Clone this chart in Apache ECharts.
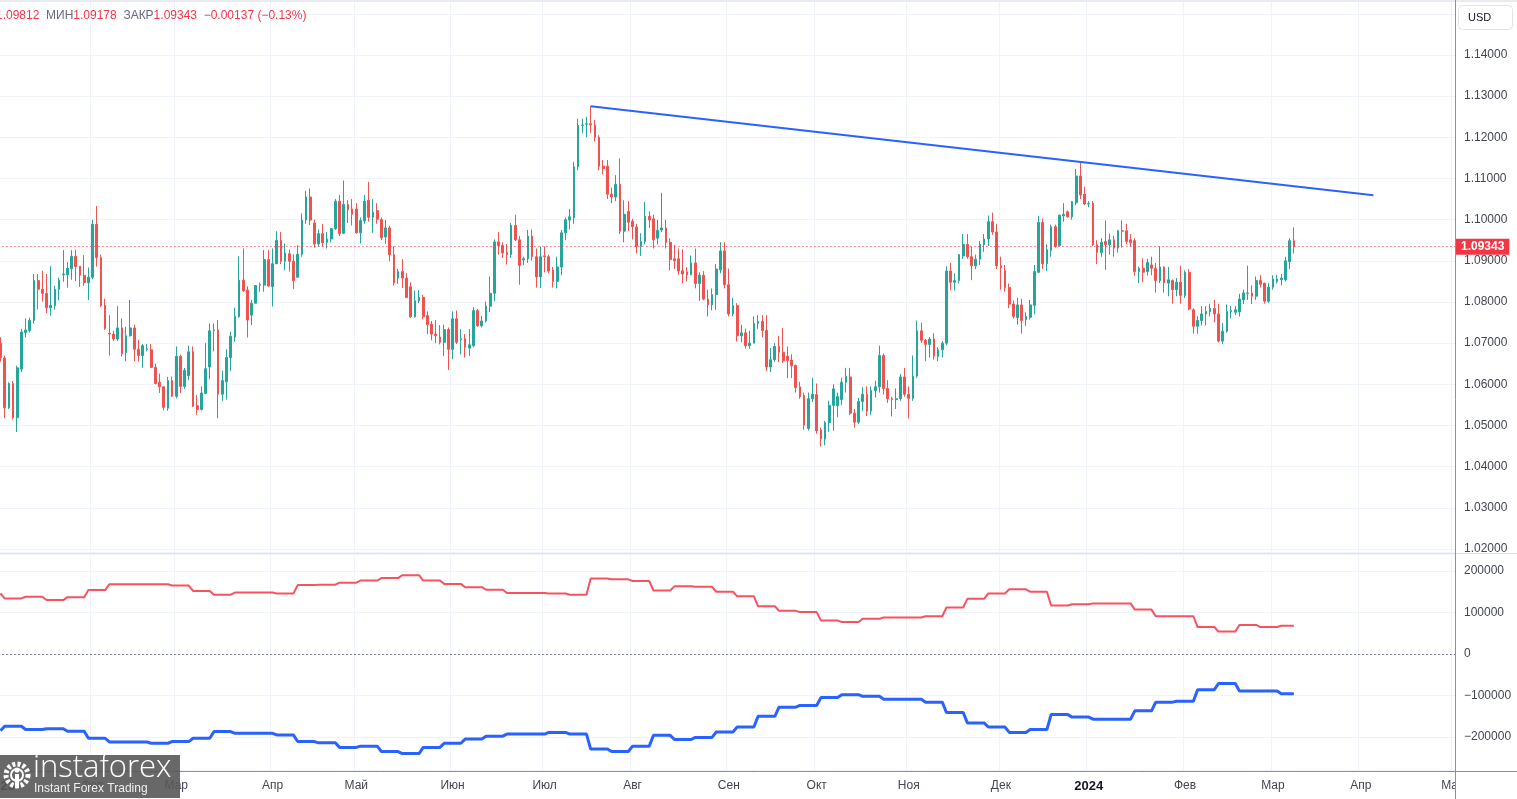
<!DOCTYPE html>
<html><head><meta charset="utf-8">
<script src="https://cdn.jsdelivr.net/npm/echarts/dist/echarts.min.js"></script>
<style>html,body{margin:0;padding:0;background:#fff;overflow:hidden}#c{width:1517px;height:799px}</style>
</head><body><div id="c"></div>
<script>
// ---------- DATA ----------
const firstDate = '2023-01-02';        // first daily bar (weekdays only)
const categoryCount = 348;             // bars incl. empty future space up to 2024-05-01
const monthNames = ['Янв','Фев','Мар','Апр','Май','Июн','Июл','Авг','Сен','Окт','Ноя','Дек'];
const priceTicks = [1.02,1.03,1.04,1.05,1.06,1.07,1.08,1.09,1.10,1.11,1.12,1.13,1.14];
const cotTicks = [-200000,-100000,0,100000,200000];
const headerText = {high:'1.09812', low:'1.09178', close:'1.09343', change:'\u22120.00137 (\u22120.13%)'};
const lastPrice = 1.09343;
const trendLine = [[141, 1.12755],[328, 1.10595]];

// daily candles [open, high, low, close]
const ohlc2023a = [
[1.0700,1.0714,1.0655,1.0665],[1.0664,1.0670,1.0518,1.0543],[1.0543,1.0605,1.0540,1.0602],[1.0602,1.0608,1.0515,1.0519],[1.0519,1.0645,1.0484,1.0640],
[1.0637,1.0735,1.0630,1.0727],[1.0726,1.0760,1.0714,1.0732],[1.0731,1.0762,1.0726,1.0755],[1.0755,1.0868,1.0748,1.0852],[1.0852,1.0868,1.0782,1.0831],
[1.0831,1.0876,1.0801,1.0821],[1.0821,1.0868,1.0773,1.0786],[1.0786,1.0887,1.0767,1.0792],[1.0791,1.0839,1.0781,1.0831],[1.0831,1.0859,1.0804,1.0853],
[1.0866,1.0926,1.0849,1.0868],[1.0866,1.0897,1.0835,1.0882],[1.0881,1.0926,1.0854,1.0911],[1.0911,1.0927,1.0851,1.0886],[1.0887,1.0887,1.0837,1.0865],
[1.0865,1.0914,1.0839,1.0847],[1.0847,1.0884,1.0805,1.0860],[1.0860,1.1000,1.0855,1.0989],[1.0989,1.1033,1.0886,1.0908],[1.0908,1.0915,1.0788,1.0791],
[1.0792,1.0808,1.0732,1.0736],[1.0724,1.0768,1.0670,1.0722],[1.0722,1.0730,1.0705,1.0710],[1.0710,1.0790,1.0705,1.0737],[1.0737,1.0760,1.0668,1.0674],
[1.0677,1.0740,1.0656,1.0718],[1.0718,1.0805,1.0716,1.0737],[1.0737,1.0745,1.0656,1.0685],[1.0685,1.0708,1.0655,1.0670],[1.0670,1.0698,1.0640,1.0694],
[1.0685,1.0698,1.0680,1.0686],[1.0684,1.0698,1.0640,1.0641],[1.0641,1.0650,1.0600,1.0602],[1.0605,1.0626,1.0579,1.0594],[1.0594,1.0596,1.0537,1.0544],
[1.0542,1.0618,1.0536,1.0609],[1.0609,1.0619,1.0569,1.0571],[1.0571,1.0692,1.0566,1.0668],[1.0668,1.0672,1.0579,1.0595],[1.0595,1.0640,1.0589,1.0634],
[1.0621,1.0694,1.0610,1.0679],[1.0679,1.0692,1.0545,1.0547],[1.0548,1.0574,1.0526,1.0539],[1.0539,1.0595,1.0536,1.0579],[1.0578,1.0700,1.0577,1.0638],
[1.0642,1.0748,1.0612,1.0730],[1.0731,1.0748,1.0680,1.0732],[1.0732,1.0756,1.0518,1.0576],[1.0576,1.0633,1.0560,1.0609],[1.0606,1.0685,1.0563,1.0665],
[1.0665,1.0728,1.0632,1.0717],[1.0715,1.0786,1.0703,1.0765],[1.0764,1.0911,1.0762,1.0853],[1.0853,1.0930,1.0825,1.0827],[1.0829,1.0838,1.0714,1.0756],
[1.0768,1.0805,1.0744,1.0797],[1.0797,1.0841,1.0797,1.0840],[1.0841,1.0847,1.0825,1.0842],[1.0841,1.0926,1.0825,1.0903],[1.0903,1.0926,1.0837,1.0839],
[1.0837,1.0930,1.0789,1.0893],[1.0893,1.0972,1.0892,1.0950],[1.0950,1.0970,1.0892,1.0899],[1.0899,1.0942,1.0877,1.0919],[1.0917,1.0927,1.0874,1.0899],
[1.0899,1.0916,1.0832,1.0852],[1.0860,1.0938,1.0860,1.0916],[1.0916,1.1015,1.0910,1.0999],[1.0999,1.1070,1.0990,1.1055],[1.1055,1.1076,1.0987,1.0999],
[1.0992,1.1000,1.0932,1.0941],[1.0941,1.0976,1.0935,1.0966],[1.0966,1.0990,1.0935,1.0944],[1.0945,1.0970,1.0930,1.0953],[1.0953,1.0980,1.0945,1.0978],
[1.0978,1.1050,1.0975,1.1045],[1.1045,1.1060,1.0960,1.0966],[1.0967,1.1095,1.0965,1.1037],[1.1037,1.1047,1.0992,1.1024],[1.1026,1.1050,1.0986,1.1013],
[1.1026,1.1040,1.0966,1.0968],[1.0968,1.1005,1.0942,1.0998],[1.0997,1.1060,1.0990,1.1045],[1.1047,1.1092,1.0995,1.1006],[1.1006,1.1050,1.0968,1.1018],
[1.1022,1.1040,1.0990,1.1001],[1.1000,1.1005,1.0950,1.0956],[1.0958,1.0999,1.0941,1.0980],[1.0980,1.0985,1.0899,1.0915],[1.0915,1.0935,1.0840,1.0846],
[1.0858,1.0880,1.0844,1.0874],[1.0874,1.0904,1.0834,1.0858],[1.0858,1.0870,1.0810,1.0811],[1.0837,1.0848,1.0761,1.0764],[1.0764,1.0828,1.0762,1.0803],
[1.0803,1.0829,1.0797,1.0811],[1.0811,1.0817,1.0758,1.0764],[1.0767,1.0777,1.0722,1.0745],[1.0746,1.0754,1.0707,1.0722],[1.0722,1.0756,1.0700,1.0718],
[1.0715,1.0744,1.0697,1.0702],[1.0702,1.0745,1.0669,1.0733],[1.0733,1.0738,1.0635,1.0685],[1.0685,1.0777,1.0661,1.0759],[1.0759,1.0779,1.0698,1.0702],
[1.0708,1.0734,1.0673,1.0711],[1.0711,1.0722,1.0665,1.0690],[1.0688,1.0734,1.0669,1.0696],[1.0694,1.0787,1.0690,1.0779],[1.0779,1.0783,1.0740,1.0742],
[1.0742,1.0766,1.0738,1.0754],[1.0754,1.0801,1.0750,1.0790],[1.0790,1.0862,1.0775,1.0821],[1.0821,1.0952,1.0802,1.0946],[1.0946,1.0970,1.0915,1.0937],
[1.0937,1.0945,1.0907,1.0919],[1.0921,1.0941,1.0891,1.0915],[1.0915,1.0992,1.0907,1.0986],[1.0986,1.1012,1.0948,1.0951],[1.0951,1.0960,1.0842,1.0889],
[1.0902,1.0910,1.0890,1.0905],[1.0905,1.0975,1.0895,1.0960],[1.0960,1.0976,1.0900,1.0910],[1.0910,1.0930,1.0835,1.0861],[1.0861,1.0935,1.0834,1.0910]
];
const ohlc2023b = [
[1.0912,1.0935,1.0872,1.0910],[1.0910,1.0915,1.0870,1.0875],[1.0878,1.0885,1.0835,1.0850],[1.0850,1.0910,1.0833,1.0885],[1.0885,1.0975,1.0865,1.0968],
[1.0968,1.1005,1.0950,1.1000],[1.0999,1.1026,1.0976,1.1007],[1.1004,1.1140,1.0990,1.1128],[1.1128,1.1245,1.1120,1.1229],[1.1229,1.1245,1.1210,1.1230],
[1.1232,1.1250,1.1200,1.1233],[1.1233,1.1276,1.1210,1.1230],[1.1230,1.1242,1.1190,1.1200],[1.1200,1.1205,1.1120,1.1130],[1.1130,1.1145,1.1110,1.1124],
[1.1130,1.1145,1.1050,1.1062],[1.1062,1.1078,1.1040,1.1055],[1.1055,1.1108,1.1045,1.1086],[1.1086,1.1149,1.0965,1.0972],[1.0972,1.1047,1.0945,1.1013],
[1.1020,1.1045,1.0972,1.0994],[1.0996,1.1002,1.0952,1.0983],[1.0982,1.0990,1.0918,1.0935],[1.0935,1.0967,1.0912,1.0947],[1.0947,1.1043,1.0940,1.1008],
[1.1008,1.1020,1.0980,1.0999],[1.1002,1.1012,1.0930,1.0951],[1.0955,1.1000,1.0940,1.0974],[1.0975,1.1065,1.0970,1.0980],[1.0980,1.1000,1.0930,1.0945],
[1.0945,1.0955,1.0877,1.0903],[1.0905,1.0938,1.0880,1.0900],[1.0905,1.0930,1.0866,1.0875],[1.0876,1.0928,1.0845,1.0868],[1.0873,1.0885,1.0850,1.0866],
[1.0866,1.0913,1.0866,1.0895],[1.0895,1.0930,1.0833,1.0845],[1.0845,1.0872,1.0803,1.0865],[1.0865,1.0875,1.0804,1.0807],[1.0807,1.0830,1.0765,1.0793],
[1.0793,1.0833,1.0780,1.0818],[1.0818,1.0892,1.0781,1.0880],[1.0878,1.0945,1.0870,1.0924],[1.0924,1.0945,1.0833,1.0842],[1.0842,1.0881,1.0765,1.0771],
[1.0771,1.0810,1.0765,1.0791],[1.0791,1.0797,1.0704,1.0718],[1.0718,1.0745,1.0702,1.0725],[1.0725,1.0735,1.0687,1.0694],[1.0694,1.0730,1.0686,1.0700],
[1.0700,1.0765,1.0700,1.0748],[1.0748,1.0768,1.0735,1.0753],[1.0753,1.0768,1.0714,1.0731],[1.0731,1.0768,1.0632,1.0642],[1.0642,1.0688,1.0630,1.0660],
[1.0660,1.0700,1.0655,1.0692],[1.0692,1.0718,1.0654,1.0678],[1.0678,1.0737,1.0652,1.0657],[1.0668,1.0692,1.0615,1.0658],[1.0659,1.0673,1.0615,1.0645],
[1.0646,1.0648,1.0580,1.0592],[1.0594,1.0606,1.0565,1.0570],[1.0573,1.0580,1.0490,1.0501],[1.0493,1.0580,1.0488,1.0565],[1.0565,1.0616,1.0557,1.0576],
[1.0575,1.0602,1.0480,1.0487],[1.0489,1.0495,1.0449,1.0467],[1.0467,1.0511,1.0452,1.0507],[1.0507,1.0560,1.0485,1.0549],[1.0549,1.0600,1.0487,1.0589],
[1.0548,1.0580,1.0520,1.0570],[1.0563,1.0616,1.0550,1.0605],[1.0605,1.0640,1.0580,1.0619],[1.0618,1.0640,1.0525,1.0530],[1.0530,1.0540,1.0495,1.0508],
[1.0508,1.0567,1.0503,1.0558],[1.0558,1.0593,1.0535,1.0576],[1.0576,1.0595,1.0523,1.0535],[1.0535,1.0595,1.0525,1.0585],[1.0585,1.0609,1.0568,1.0594],
[1.0594,1.0694,1.0580,1.0670],[1.0670,1.0675,1.0575,1.0590],[1.0590,1.0610,1.0555,1.0565],[1.0565,1.0570,1.0522,1.0563],[1.0563,1.0590,1.0540,1.0565],
[1.0565,1.0625,1.0560,1.0618],[1.0618,1.0640,1.0570,1.0576],[1.0576,1.0595,1.0517,1.0566],[1.0566,1.0670,1.0560,1.0620],[1.0620,1.0755,1.0616,1.0730],
[1.0730,1.0750,1.0700,1.0707],[1.0707,1.0710,1.0656,1.0697],[1.0697,1.0715,1.0665,1.0710],[1.0710,1.0724,1.0660,1.0668],[1.0668,1.0690,1.0656,1.0684],
[1.0684,1.0705,1.0665,1.0700],[1.0700,1.0887,1.0695,1.0875],[1.0875,1.0895,1.0828,1.0848],[1.0848,1.0870,1.0828,1.0852],[1.0852,1.0916,1.0845,1.0915],
[1.0912,1.0965,1.0905,1.0940],[1.0940,1.0965,1.0905,1.0910],[1.0910,1.0935,1.0853,1.0888],[1.0888,1.0915,1.0880,1.0904],[1.0904,1.0948,1.0890,1.0940],
[1.0940,1.0965,1.0922,1.0953],[1.0953,1.1010,1.0936,1.0995],[1.0995,1.1017,1.0963,1.0970],[1.0970,1.0990,1.0880,1.0888],[1.0888,1.0910,1.0830,1.0883],
[1.0876,1.0890,1.0825,1.0835],[1.0835,1.0845,1.0785,1.0795],[1.0795,1.0803,1.0760,1.0765],[1.0762,1.0810,1.0745,1.0793],[1.0793,1.0808,1.0723,1.0755],
[1.0757,1.0775,1.0742,1.0765],[1.0763,1.0805,1.0757,1.0793],[1.0792,1.0890,1.0770,1.0874],[1.0872,1.1009,1.0870,1.0993],[1.0993,1.1003,1.0880,1.0893],
[1.0893,1.0940,1.0875,1.0927],[1.0925,1.0988,1.0910,1.0983],[1.0983,1.0988,1.0932,1.0935],[1.0937,1.1012,1.0935,1.1011],[1.1009,1.1040,1.0995,1.1013],
[1.1019,1.1022,1.1005,1.1007],[1.1007,1.1045,1.1000,1.1044],[1.1041,1.1123,1.1035,1.1106],[1.1106,1.1139,1.1050,1.1060],[1.1062,1.1080,1.1035,1.1038]
];
const ohlc2024 = [
[1.1038,1.1045,1.1030,1.1039],[1.1040,1.1045,1.0936,1.0939],[1.0939,1.0950,1.0892,1.0920],[1.0920,1.0955,1.0910,1.0945],[1.0947,1.0998,1.0878,1.0939],
[1.0939,1.0966,1.0915,1.0951],[1.0951,1.0961,1.0910,1.0931],[1.0931,1.0975,1.0920,1.0973],[1.0973,1.0998,1.0932,1.0972],[1.0973,1.0990,1.0940,1.0947],
[1.0951,1.0965,1.0935,1.0944],[1.0949,1.0955,1.0864,1.0874],[1.0874,1.0886,1.0846,1.0882],[1.0882,1.0906,1.0848,1.0872],[1.0874,1.0905,1.0864,1.0896],
[1.0890,1.0910,1.0865,1.0882],[1.0882,1.0895,1.0823,1.0852],[1.0852,1.0935,1.0846,1.0885],[1.0885,1.0887,1.0823,1.0846],[1.0846,1.0885,1.0814,1.0854],
[1.0852,1.0855,1.0796,1.0830],[1.0830,1.0858,1.0814,1.0848],[1.0848,1.0888,1.0796,1.0816],[1.0816,1.0877,1.0810,1.0872],[1.0872,1.0880,1.0780,1.0783],
[1.0781,1.0785,1.0723,1.0741],[1.0741,1.0765,1.0723,1.0755],[1.0755,1.0790,1.0743,1.0771],[1.0771,1.0790,1.0743,1.0777],[1.0776,1.0796,1.0765,1.0784],
[1.0784,1.0805,1.0751,1.0771],[1.0771,1.0796,1.0702,1.0705],[1.0705,1.0749,1.0697,1.0729],[1.0729,1.0794,1.0725,1.0777],[1.0777,1.0790,1.0760,1.0780],
[1.0775,1.0790,1.0768,1.0781],[1.0776,1.0820,1.0765,1.0807],[1.0805,1.0830,1.0795,1.0822],[1.0821,1.0888,1.0805,1.0822],[1.0822,1.0840,1.0795,1.0814],
[1.0814,1.0862,1.0805,1.0852],[1.0852,1.0865,1.0835,1.0843],[1.0846,1.0846,1.0796,1.0802],[1.0802,1.0846,1.0797,1.0836],[1.0836,1.0865,1.0830,1.0856],
[1.0850,1.0866,1.0845,1.0856],[1.0854,1.0868,1.0840,1.0858],[1.0854,1.0910,1.0850,1.0900],[1.0898,1.0955,1.0880,1.0949],[1.0949,1.09812,1.09178,1.09343]
];

// weekly COT net positions (thousands of contracts), one value per report week
const cotRedWeekly = [146,134,138,130,137,154,168,168,168,165,152,143,148,148,146,166,167,172,177,183,190,177,169,161,155,
 147,147,146,143,182,180,176,153,163,162,150,139,115,104,101,81,77,85,88,88,91,112,133,146,
 156,150,117,120,122,122,107,91,91,65,54,70,65,68];
const cotBlueWeekly = [-185,-174,-182,-180,-186,-203,-212,-212,-215,-211,-203,-187,-191,-191,-195,-211,-214,-225,-222,-235,-240,-225,-215,-205,-198,
 -193,-193,-189,-193,-229,-235,-222,-196,-206,-201,-188,-176,-150,-128,-124,-105,-98,-102,-109,-109,-116,-141,-166,-176,
 -189,-182,-146,-152,-157,-157,-137,-116,-114,-86,-71,-89,-89,-96];

// ---------- BUILD ----------
const dates = [];
const d0 = new Date(firstDate + 'T00:00:00Z');
for (let d = new Date(d0); dates.length < categoryCount; d.setUTCDate(d.getUTCDate() + 1)) {
  const wd = d.getUTCDay();
  if (wd !== 0 && wd !== 6) dates.push(d.toISOString().slice(0, 10));
}
const isMonthStart = dates.map((s, i) => i === 0 || s.slice(5, 7) !== dates[i - 1].slice(5, 7));
const ohlc = ohlc2023a.concat(ohlc2023b, ohlc2024);
const candleData = ohlc.map(r => [r[0], r[3], r[2], r[1]]);
const weekOf = i => Math.floor((i + 4) / 5);
const cotRed = ohlc.map((r, i) => cotRedWeekly[weekOf(i)] * 1000);
const cotBlue = ohlc.map((r, i) => cotBlueWeekly[weekOf(i)] * 1000);

const GRID = '#f0f3fa';
const TXT = '#434651';
const FONT = 'Liberation Sans, Arial, sans-serif';
const priceLabel = v => {
  const hit = priceTicks.find(t => Math.abs(t - v) < 1e-7);
  return hit !== undefined ? hit.toFixed(5) : '';
};
const cotLabel = v => {
  const hit = cotTicks.find(t => Math.abs(t - v) < 1e-3);
  if (hit === undefined) return '';
  return hit < 0 ? '\u2212' + Math.abs(hit) : String(hit);
};
const monthLabel = (val) => {
  const m = +val.slice(5, 7) - 1;
  if (m === 0) return '{y|' + val.slice(0, 4) + '}';
  return monthNames[m];
};

const chart = echarts.init(document.getElementById('c'), null, {renderer: 'canvas'});
chart.setOption({
  animation: false,
  backgroundColor: '#ffffff',
  grid: [
    {left: -1.6, right: 62, top: 0, height: 552, containLabel: false, outerBoundsMode: 'none'},
    {left: -1.6, right: 62, top: 554, height: 216, containLabel: false, outerBoundsMode: 'none'}
  ],
  xAxis: [
    {type: 'category', gridIndex: 0, data: dates, boundaryGap: true,
     axisLine: {show: false}, axisTick: {show: false}, axisLabel: {show: false},
     splitLine: {show: true, interval: (i) => isMonthStart[i], lineStyle: {color: GRID, width: 1}}},
    {type: 'category', gridIndex: 1, data: dates, boundaryGap: true,
     axisLine: {show: false}, axisTick: {show: false},
     axisLabel: {show: true, interval: (i) => isMonthStart[i], formatter: monthLabel, margin: 10, align: 'center',
       color: TXT, fontSize: 12, fontFamily: FONT,
       rich: {y: {fontWeight: 'bold', fontSize: 13, color: '#131722', fontFamily: FONT}}},
     splitLine: {show: true, interval: (i) => isMonthStart[i], lineStyle: {color: GRID, width: 1}}}
  ],
  yAxis: [
    {type: 'value', gridIndex: 0, position: 'right', min: 1.01927, max: 1.15336, splitNumber: 13, scale: true,
     axisLine: {show: false}, axisTick: {show: false},
     axisLabel: {formatter: priceLabel, margin: 9, color: TXT, fontSize: 12, fontFamily: FONT},
     splitLine: {lineStyle: {color: GRID, width: 1}}},
    {type: 'value', gridIndex: 1, position: 'right', min: -279500, max: 241000, splitNumber: 5,
     axisLine: {show: false}, axisTick: {show: false},
     axisLabel: {formatter: cotLabel, margin: 9, color: TXT, fontSize: 12, fontFamily: FONT},
     splitLine: {lineStyle: {color: GRID, width: 1}}}
  ],
  series: [
    {type: 'candlestick', xAxisIndex: 0, yAxisIndex: 0, data: candleData, barWidth: 2.2,
     itemStyle: {color: '#26a69a', color0: '#ef5350', borderColor: '#26a69a', borderColor0: '#ef5350', borderWidth: 1}},
    {type: 'line', xAxisIndex: 0, yAxisIndex: 0, data: trendLine, symbol: 'none', silent: true, z: 5,
     lineStyle: {color: '#2962ff', width: 2},
     markLine: {silent: true, symbol: ['none', 'none'], animation: false, precision: 5,
       lineStyle: {color: '#f23645', type: [1, 3], width: 1},
       label: {show: true, position: 'end', formatter: lastPrice.toFixed(5), distance: 1,
         color: '#ffffff', backgroundColor: '#f23645', fontWeight: 'bold', fontSize: 12,
         fontFamily: FONT, padding: [2, 5, 2, 5]},
       data: [{yAxis: lastPrice}]}},
    {type: 'line', xAxisIndex: 1, yAxisIndex: 1, data: cotRed, symbol: 'none', silent: true,
     lineStyle: {color: '#f7525f', width: 2},
     markLine: {silent: true, symbol: ['none', 'none'], label: {show: false},
       lineStyle: {color: '#131722', type: [1, 3], width: 1}, data: [{yAxis: 0}]}},
    {type: 'line', xAxisIndex: 1, yAxisIndex: 1, data: cotBlue, symbol: 'none', silent: true,
     lineStyle: {color: '#2962ff', width: 3}}
  ],
  graphic: [
    {type: 'rect', z: 50, silent: true, shape: {x: 0, y: 0, width: 1517, height: 2}, style: {fill: '#e9ebf0'}},
    {type: 'rect', z: 50, silent: true, shape: {x: 1456, y: 772, width: 61, height: 27}, style: {fill: '#ffffff'}},
    {type: 'line', z: 51, silent: true, shape: {x1: 0, y1: 553.5, x2: 1517, y2: 553.5}, style: {stroke: '#e0e3eb', lineWidth: 1}},
    {type: 'line', z: 51, silent: true, shape: {x1: 0, y1: 771.5, x2: 1517, y2: 771.5}, style: {stroke: '#8d9099', lineWidth: 1}},
    {type: 'line', z: 51, silent: true, shape: {x1: 1455.5, y1: 0, x2: 1455.5, y2: 799}, style: {stroke: '#8d9099', lineWidth: 1}},
    {type: 'rect', z: 52, silent: true, shape: {x: 1458.5, y: 5.5, width: 54, height: 24, r: 4},
     style: {fill: '#ffffff', stroke: '#e0e3eb', lineWidth: 1}},
    {type: 'text', z: 53, silent: true, x: 1468, y: 18,
     style: {text: 'USD', fill: '#131722', fontSize: 11, fontFamily: FONT, verticalAlign: 'middle'}},
    {type: 'text', z: 53, silent: true, x: -4, y: 16,
     style: {text: '{r|' + headerText.high + '}  {g|МИН}{r|' + headerText.low + '}  {g|ЗАКР}{r|' + headerText.close + '}  {r|' + headerText.change + '}',
       verticalAlign: 'middle', fontSize: 12, fontFamily: FONT,
       rich: {r: {fill: '#f23645', fontSize: 12, fontFamily: FONT},
              g: {fill: '#6a6d78', fontSize: 12, fontFamily: FONT}}}},
    // watermark logo
    {type: 'rect', z: 60, silent: true, shape: {x: 0, y: 755, width: 180, height: 43}, style: {fill: 'rgba(88,88,88,0.9)'}},
    {type: 'circle', z: 61, silent: true, shape: {cx: 17, cy: 775, r: 11}, style: {fill: 'none', stroke: '#ffffff', lineWidth: 5, lineDash: [3, 2.2]}},
    {type: 'circle', z: 61, silent: true, shape: {cx: 17, cy: 775, r: 6}, style: {fill: 'none', stroke: '#ffffff', lineWidth: 2}},
    {type: 'circle', z: 62, silent: true, shape: {cx: 17, cy: 770, r: 2.6}, style: {fill: '#ffffff'}},
    {type: 'rect', z: 62, silent: true, shape: {x: 15, y: 774, width: 4, height: 14}, style: {fill: '#ffffff'}},
    {type: 'text', z: 61, silent: true, x: 33, y: 753,
     style: {text: 'instaforex', fill: '#ffffff', fontSize: 31, fontWeight: 300, fontFamily: 'Open Sans, Liberation Sans, sans-serif'}},
    {type: 'text', z: 61, silent: true, x: 34, y: 783,
     style: {text: 'Instant Forex Trading', fill: '#f0f0f0', fontSize: 12, fontFamily: FONT}}
  ]
});
</script>
</body></html>
